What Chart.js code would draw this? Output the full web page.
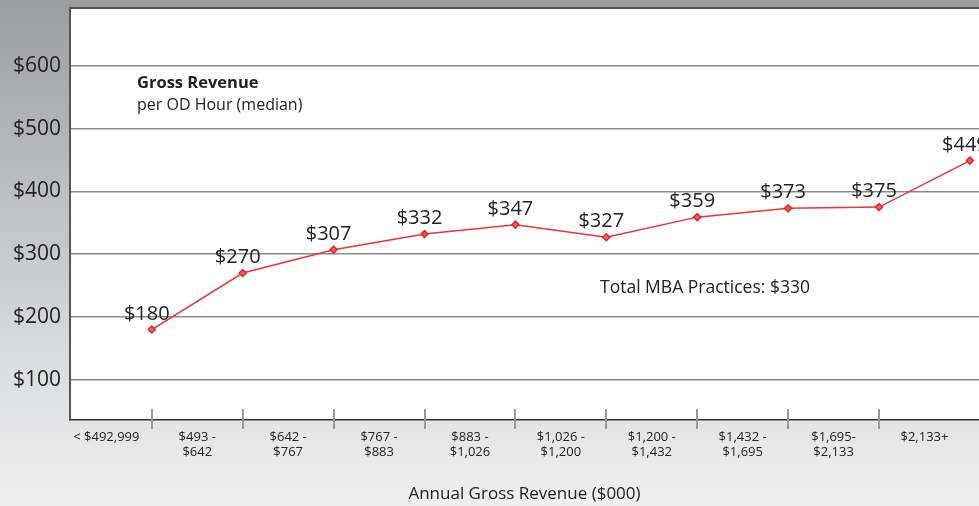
<!DOCTYPE html>
<html>
<head>
<meta charset="utf-8">
<script src="https://cdn.jsdelivr.net/npm/chart.js@4/dist/chart.umd.min.js"></script>
<style>
  html, body { margin: 0; padding: 0; background: #ececec; }
  #wrap { width: 979px; height: 506px; }
</style>
</head>
<body>
<div id="wrap"><canvas id="chart" width="979" height="506"></canvas></div>
<script>
// data
const categories = [
  ['< $492,999'], ['$493 -', '$642'], ['$642 -', '$767'], ['$767 -', '$883'],
  ['$883 -', '$1,026'], ['$1,026 -', '$1,200'], ['$1,200 -', '$1,432'],
  ['$1,432 -', '$1,695'], ['$1,695-', '$2,133'], ['$2,133+']
];
const revenue = [180, 270, 307, 332, 347, 327, 359, 373, 375, 449];
const yTicks = [100, 200, 300, 400, 500, 600];
const totalLabel = 'Total MBA Practices: $330';

const FONT = '"Open Sans", "Noto Sans", sans-serif';
const TEXT = '#222';

// background, plot frame, boundary tick marks, notes
const decor = {
  id: 'decor',
  beforeDraw(chart) {
    const { ctx, chartArea: a, width, height } = chart;
    const g = ctx.createLinearGradient(0, 0, 0, height);
    g.addColorStop(0, '#9c9da1');
    g.addColorStop(0.75, '#dedfe1');
    g.addColorStop(1, '#efefef');
    ctx.save();
    ctx.fillStyle = g;
    ctx.fillRect(0, 0, width, height);
    ctx.fillStyle = '#ffffff';
    ctx.fillRect(a.left, a.top, a.right - a.left, a.bottom - a.top);
    ctx.restore();
  },
  afterDraw(chart) {
    const { ctx, chartArea: a, scales } = chart;
    ctx.save();
    // top frame line
    ctx.strokeStyle = '#555';
    ctx.lineWidth = 2;
    ctx.beginPath();
    ctx.moveTo(a.left, a.top);
    ctx.lineTo(a.right, a.top);
    ctx.stroke();
    // tick marks at category boundaries
    ctx.strokeStyle = '#999';
    ctx.lineWidth = 2;
    for (let k = 1; k < categories.length; k++) {
      const x = Math.round(scales.x.getPixelForValue(k));
      ctx.beginPath();
      ctx.moveTo(x, a.bottom - 11);
      ctx.lineTo(x, a.bottom + 9);
      ctx.stroke();
    }
    // notes
    ctx.fillStyle = TEXT;
    ctx.textAlign = 'left';
    ctx.textBaseline = 'alphabetic';
    ctx.font = 'bold 16.5px ' + FONT;
    ctx.fillText('Gross Revenue', 137, 88);
    ctx.font = '16px ' + FONT;
    ctx.fillText('per OD Hour (median)', 137, 110);
    ctx.font = '17.5px ' + FONT;
    ctx.fillText(totalLabel, 600, 293);
    ctx.restore();
  },
  afterDatasetsDraw(chart) {
    const { ctx } = chart;
    const meta = chart.getDatasetMeta(0);
    ctx.save();
    ctx.fillStyle = TEXT;
    ctx.font = '20px ' + FONT;
    ctx.textAlign = 'center';
    ctx.textBaseline = 'alphabetic';
    meta.data.forEach((pt, i) => {
      ctx.fillText('$' + revenue[i], pt.x - 5, pt.y - 10);
    });
    ctx.restore();
  }
};

new Chart(document.getElementById('chart'), {
  type: 'line',
  data: {
    datasets: [{
      data: revenue.map((v, i) => ({ x: i + 1, y: v })),
      borderColor: '#e3393a',
      borderWidth: 1.5,
      backgroundColor: '#e3262a',
      pointStyle: 'rectRot',
      pointRadius: 3.5,
      pointBorderColor: '#e3262a',
      pointBackgroundColor: '#f26060',
      pointBorderWidth: 1.5,
      tension: 0,
      clip: false
    }]
  },
  options: {
    responsive: false,
    animation: false,
    layout: { autoPadding: false, padding: { top: 8, left: 0, right: 0, bottom: 0 } },
    plugins: { legend: { display: false }, tooltip: { enabled: false } },
    scales: {
      x: {
        type: 'linear',
        min: 0.1,
        max: 10.1,
        afterBuildTicks: s => { s.ticks = categories.map((c, i) => ({ value: i + 0.5 })); },
        afterFit: s => { s.height = 86; s.paddingLeft = 0; s.paddingRight = 0; },
        grid: { display: false, drawTicks: false },
        border: { display: true, color: '#333', width: 1.5 },
        ticks: {
          autoSkip: false,
          maxRotation: 0,
          padding: 9,
          color: TEXT,
          font: { family: FONT, size: 13, lineHeight: 1.2 },
          callback: (v, i) => categories[i]
        },
        title: {
          display: true,
          text: 'Annual Gross Revenue ($000)',
          color: TEXT,
          font: { family: FONT, size: 17 },
          padding: { top: 0, bottom: 2 }
        }
      },
      y: {
        min: 36,
        max: 692,
        afterBuildTicks: s => { s.ticks = yTicks.map(v => ({ value: v })); },
        afterFit: s => { s.width = 70; s.paddingTop = 0; s.paddingBottom = 0; },
        grid: { color: '#8a8a8a', lineWidth: 1.5, drawTicks: false },
        border: { display: true, color: '#555', width: 2 },
        ticks: {
          padding: 9,
          color: TEXT,
          font: { family: FONT, size: 21 },
          callback: v => '$' + v
        }
      }
    }
  },
  plugins: [decor]
});
</script>
</body>
</html>
